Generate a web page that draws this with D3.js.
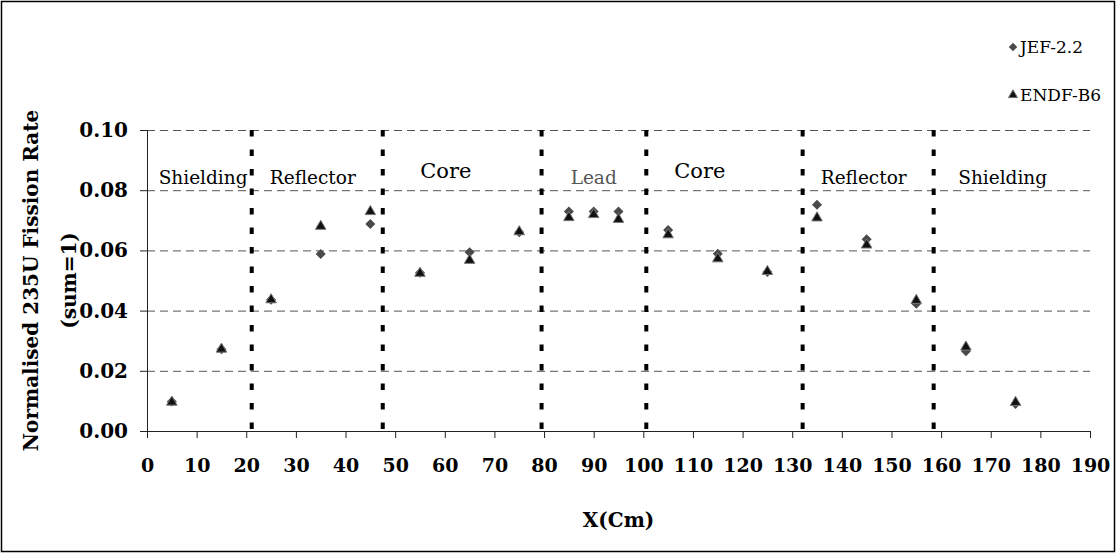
<!DOCTYPE html>
<html>
<head>
<meta charset="utf-8">
<script src="https://cdn.jsdelivr.net/npm/d3@7"></script>
<style>
  body { margin: 0; background: #fff; }
  svg { display: block; font-family: "DejaVu Serif", serif; }
  .grid line { stroke: #555; stroke-dasharray: 8,5; }
  .grid .domain { display: none; }
</style>
</head>
<body>
<svg id="chart" width="1117" height="554"></svg>
<script>
// positions along the core (cm)
var xPos    = [5, 15, 25, 35, 45, 55, 65, 75, 85, 90, 95, 105, 115, 125, 135, 145, 155, 165, 175];
var jef22   = [0.0098, 0.0272, 0.0436, 0.0588, 0.0688, 0.0526, 0.0594, 0.0660, 0.0729, 0.0729, 0.0729, 0.0668, 0.0589, 0.0528, 0.0752, 0.0637, 0.0423, 0.0265, 0.0090];
var endfB6  = [0.0096, 0.0272, 0.0436, 0.0680, 0.0729, 0.0524, 0.0567, 0.0662, 0.0709, 0.0719, 0.0703, 0.0652, 0.0572, 0.0530, 0.0708, 0.0618, 0.0434, 0.0279, 0.0095];

// region boundaries and names
var boundaries = [21.1, 47.5, 79.5, 100.6, 132.1, 158.5];
var regions    = ["Shielding", "Reflector", "Core", "Lead", "Core", "Reflector", "Shielding"];
var regionMid  = [11.3, 33.4, 60.2, 90, 111.4, 144.4, 172.4];

var xTicks = d3.range(0, 191, 10);
var yTicks = [0, 0.02, 0.04, 0.06, 0.08, 0.10];

var svg = d3.select("#chart");
var margin = {top: 130, right: 27, bottom: 123, left: 147};
var width = 1117 - margin.left - margin.right;
var height = 554 - margin.top - margin.bottom;

// outer frame
svg.append("rect")
  .attr("x", 1.5).attr("y", 1.5)
  .attr("width", 1113).attr("height", 550)
  .attr("fill", "none").attr("stroke", "#000").attr("stroke-width", 1.5);

var g = svg.append("g").attr("transform", "translate(" + margin.left + "," + margin.top + ")");

var xScale = d3.scaleLinear().domain([0, 190]).range([0, width]);
var yScale = d3.scaleLinear().domain([0, 0.10]).range([height, 0]);

// horizontal grid
g.append("g")
  .attr("class", "grid")
  .call(d3.axisLeft(yScale).tickValues(yTicks.slice(1)).tickSize(-width).tickFormat(""));

// region separators
g.selectAll(".sep")
  .data(boundaries)
  .enter()
  .append("line")
  .attr("class", "sep")
  .attr("x1", function(d){ return xScale(d); })
  .attr("x2", function(d){ return xScale(d); })
  .attr("y1", yScale(0.10))
  .attr("y2", yScale(0))
  .attr("stroke", "#000")
  .attr("stroke-width", 4)
  .attr("stroke-dasharray", "6.5,13");

// region names
g.selectAll(".region")
  .data(regions)
  .enter()
  .append("text")
  .attr("class", "region")
  .attr("x", function(d, i){ return xScale(regionMid[i]); })
  .attr("y", function(d){ return d == "Core" ? 48 : 54; })
  .attr("text-anchor", "middle")
  .style("font-size", function(d){ return d == "Core" ? "21px" : "18.5px"; })
  .attr("fill", function(d){ return d == "Lead" ? "#555" : "#000"; })
  .text(function(d){ return d; });

// axes
var xAxis = d3.axisBottom(xScale).tickValues(xTicks).tickSize(7).tickFormat(d3.format("d"));
var xAxisGroup = g.append("g")
  .attr("transform", "translate(0," + height + ")")
  .call(xAxis);
xAxisGroup.selectAll("text")
  .attr("dy", "1.65em")
  .style("font-size", "19px")
  .style("font-weight", "bold")
  .style("font-family", "DejaVu Serif")
  .attr("fill", "#000");

var yAxis = d3.axisLeft(yScale).tickValues(yTicks).tickSize(7).tickFormat(d3.format(".2f"));
var yAxisGroup = g.append("g").call(yAxis);
yAxisGroup.selectAll("text")
  .attr("x", -19)
  .style("font-size", "20px")
  .style("font-weight", "bold")
  .style("font-family", "DejaVu Serif")
  .attr("fill", "#000");

g.selectAll(".domain").attr("stroke", "#222");
g.selectAll(".tick line").filter(function(){ return !this.closest(".grid"); }).attr("stroke", "#222");

// markers
var diamond = d3.symbol().type(d3.symbolSquare).size(50);
var triangle = d3.symbol().type(d3.symbolTriangle).size(48);

g.selectAll(".jef")
  .data(jef22)
  .enter()
  .append("path")
  .attr("class", "jef")
  .attr("d", diamond)
  .attr("transform", function(d, i){ return "translate(" + xScale(xPos[i]) + "," + yScale(d) + ") rotate(45)"; })
  .attr("fill", "#4a4a4a");

g.selectAll(".endf")
  .data(endfB6)
  .enter()
  .append("path")
  .attr("class", "endf")
  .attr("d", triangle)
  .attr("transform", function(d, i){ return "translate(" + xScale(xPos[i]) + "," + yScale(d) + ")"; })
  .attr("fill", "#111")
  .attr("stroke", "#777")
  .attr("stroke-width", 1);

// axis titles
svg.append("text")
  .attr("transform", "translate(38," + (margin.top + height / 2) + ") rotate(-90)")
  .attr("text-anchor", "middle")
  .style("font-size", "20px")
  .style("font-weight", "bold")
  .text("Normalised 235U Fission Rate");
svg.append("text")
  .attr("transform", "translate(76," + (margin.top + height / 2) + ") rotate(-90)")
  .attr("text-anchor", "middle")
  .style("font-size", "20px")
  .style("font-weight", "bold")
  .text("(sum=1)");

svg.append("text")
  .attr("x", margin.left + width / 2)
  .attr("y", 527)
  .attr("text-anchor", "middle")
  .style("font-size", "20px")
  .style("font-weight", "bold")
  .text("X(Cm)");

// legend
var legend = svg.append("g").attr("transform", "translate(1013,0)");
legend.append("path").attr("d", d3.symbol().type(d3.symbolSquare).size(36)).attr("transform", "translate(0,47) rotate(45)").attr("fill", "#4a4a4a");
legend.append("text").attr("x", 7).attr("y", 53).style("font-size", "17px").text("JEF-2.2");
legend.append("path").attr("d", d3.symbol().type(d3.symbolTriangle).size(36)).attr("transform", "translate(0,95)").attr("fill", "#111").attr("stroke", "#777");
legend.append("text").attr("x", 7).attr("y", 101).style("font-size", "17px").text("ENDF-B6");
</script>
</body>
</html>
